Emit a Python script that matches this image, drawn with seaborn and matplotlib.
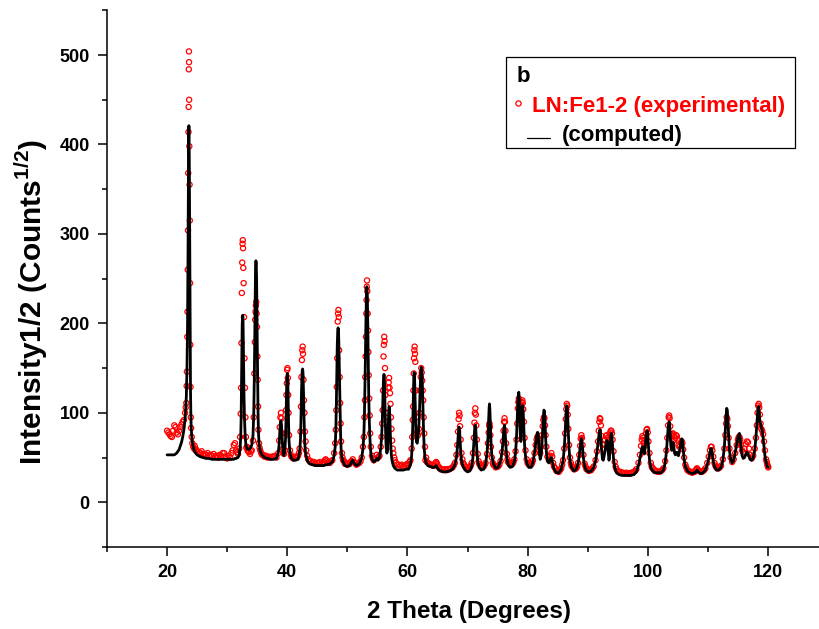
import matplotlib
matplotlib.use("Agg")
import numpy as np
import pandas as pd
import matplotlib.pyplot as plt
import seaborn as sns
from matplotlib.patches import Rectangle
from matplotlib.lines import Line2D

# ---------------- data (2theta, observed, computed) ----------------
seg1_2theta = [20.0, 20.2, 20.4, 20.6, 20.8, 21.0, 21.2, 21.4, 21.6, 21.8, 22.0, 22.2, 22.4, 22.6, 22.8,
               23.0, 23.1, 23.2, 23.26, 23.3, 23.36, 23.4, 23.44, 23.48, 23.52, 23.56, 23.59, 23.61, 23.63,
               23.65, 23.67, 23.70, 23.74, 23.78, 23.82, 23.86, 23.90, 23.95, 24.0, 24.1, 24.2, 24.35, 24.5,
               24.75, 25.0, 25.5, 26.0, 26.5, 27.0, 27.5]
seg1_obs = [80, 78, 76, 74, 73, 80, 86, 84, 78, 76, 80, 84, 87, 90, 92,
            100, 106, 111, 130, 146, 185, 213, 260, 304, 368, 414, 442, 484, 504,
            492, 450, 398, 355, 315, 245, 176, 129, 95, 83, 73, 66, 62, 60,
            58, 57, 55, 54, 53, 52, 52]
seg1_calc = [53, 53, 53, 53, 53, 53, 53, 54, 55, 57, 59, 63, 67, 73, 81,
             94, 104, 118, 132, 145, 172, 195, 230, 275, 330, 385, 410, 419, 421,
             418, 405, 380, 330, 270, 210, 160, 125, 100, 86, 74, 67, 62, 58,
             55, 53, 51, 50, 49, 49, 48]

seg2_2theta = [28.0, 28.5, 29.0, 29.5, 30.0, 30.5, 30.9, 31.1, 31.3, 31.5, 31.8, 32.0, 32.15, 32.25, 32.32,
               32.38, 32.44, 32.5, 32.56, 32.6, 32.64, 32.68, 32.74, 32.8, 32.88, 32.96, 33.04, 33.12, 33.3,
               33.5, 33.8, 34.1, 34.3, 34.42, 34.52, 34.6, 34.66, 34.72, 34.78, 34.84, 34.9, 34.96, 35.02,
               35.08, 35.14, 35.2, 35.3, 35.5, 35.8, 36.2, 36.7, 37.2, 37.7]
seg2_obs = [51, 50, 52, 55, 49, 50, 58, 64, 66, 58, 54, 60, 73, 99, 128,
            178, 234, 268, 289, 293, 284, 262, 245, 207, 161, 128, 95, 73, 62,
            57, 54, 58, 69, 95, 144, 179, 204, 213, 220, 224, 211, 196, 163,
            137, 107, 81, 66, 58, 53, 51, 50, 50, 51]
seg2_calc = [48, 48, 48, 48, 48, 48, 48, 48, 49, 49, 50, 53, 60, 72, 92,
             130, 170, 198, 208, 209, 205, 185, 150, 120, 95, 80, 70, 64, 60,
             59, 60, 64, 75, 98, 140, 190, 235, 262, 270, 268, 250, 215, 170,
             130, 100, 80, 66, 57, 53, 50, 49, 48, 48]

seg3_2theta = [38.2, 38.5, 38.65, 38.75, 38.85, 38.95, 39.05, 39.15, 39.3, 39.45, 39.6, 39.72, 39.8, 39.86,
               39.92, 39.98, 40.04, 40.1, 40.16, 40.22, 40.3, 40.45, 40.7, 41.0, 41.4, 41.8, 42.05, 42.2,
               42.28, 42.36, 42.44, 42.5, 42.56, 42.62, 42.7, 42.78, 42.86, 42.94, 43.05, 43.3, 43.7, 44.2,
               44.7, 45.2, 45.7, 46.1, 46.4, 46.7, 47.1, 47.5, 47.8, 47.98, 48.08, 48.16, 48.24, 48.32,
               48.4, 48.46, 48.52, 48.58, 48.64, 48.72, 48.8, 48.88, 48.96, 49.1, 49.3, 49.6, 50.0]
seg3_obs = [50, 55, 69, 84, 95, 100, 94, 77, 60, 54, 58, 77, 103, 120,
            133, 148, 150, 139, 120, 100, 75, 58, 51, 49, 50, 52, 60, 79,
            107, 140, 159, 170, 174, 166, 137, 114, 100, 79, 68, 52, 46, 44,
            43, 44, 43, 45, 48, 44, 44, 47, 55, 66, 81, 103, 129, 161,
            202, 211, 215, 207, 170, 140, 111, 88, 68, 55, 47, 43, 42]
seg3_calc = [49, 55, 65, 78, 88, 91, 86, 72, 56, 52, 58, 72, 95, 118,
             135, 143, 144, 135, 112, 88, 68, 55, 49, 47, 47, 48, 56, 70,
             92, 120, 140, 148, 149, 145, 125, 98, 78, 64, 55, 47, 43, 42,
             41, 41, 41, 41, 42, 42, 43, 45, 52, 62, 80, 105, 140, 175,
             192, 195, 193, 180, 158, 125, 95, 75, 60, 50, 45, 41, 40]

seg4_2theta = [50.4, 50.7, 50.9, 51.1, 51.5, 52.0, 52.4, 52.6, 52.75, 52.85, 52.92, 52.98, 53.04, 53.1,
               53.16, 53.2, 53.24, 53.28, 53.32, 53.38, 53.44, 53.5, 53.56, 53.64, 53.72, 53.8, 53.9, 54.1,
               54.4, 54.7, 54.9, 55.1, 55.35, 55.55, 55.7, 55.8, 55.88, 55.95, 56.02, 56.08, 56.14, 56.2,
               56.27, 56.34, 56.45, 56.58, 56.7, 56.8, 56.88, 56.95, 57.02, 57.1, 57.18, 57.26, 57.34,
               57.45, 57.65, 57.9, 58.3, 58.8, 59.3, 59.8]
seg4_obs = [43, 46, 48, 45, 42, 44, 50, 62, 73, 95, 114, 140, 163, 185,
            211, 226, 241, 248, 236, 211, 192, 168, 142, 116, 97, 77, 62, 52,
            47, 49, 53, 50, 52, 62, 73, 88, 103, 125, 163, 176, 185, 180,
            150, 120, 100, 90, 100, 128, 134, 139, 128, 122, 110, 95, 82,
            69, 55, 47, 42, 41, 40, 42]
seg4_calc = [41, 45, 47, 44, 41, 43, 50, 60, 75, 100, 125, 150, 180, 205,
             228, 238, 241, 240, 232, 210, 180, 150, 120, 95, 78, 66, 56, 48,
             45, 47, 49, 47, 50, 60, 72, 88, 105, 125, 138, 143, 142, 132,
             110, 85, 62, 55, 58, 80, 100, 107, 104, 90, 72, 60, 52,
             46, 41, 38, 36, 36, 36, 37]

seg5_2theta = [60.2, 60.5, 60.7, 60.8, 60.88, 60.94, 61.0, 61.06, 61.1, 61.15, 61.2, 61.26, 61.32, 61.4,
               61.5, 61.62, 61.75, 61.9, 62.02, 62.12, 62.22, 62.3, 62.38, 62.46, 62.54, 62.62, 62.7, 62.8,
               62.92, 63.1, 63.4, 63.8, 64.2, 64.5, 64.8, 65.1, 65.5, 66.0, 66.5, 67.0, 67.5, 67.9, 68.15,
               68.3, 68.42, 68.52, 68.6, 68.68, 68.76, 68.86, 69.0, 69.25, 69.6, 70.0, 70.4, 70.7, 70.9,
               71.05, 71.15, 71.22, 71.3, 71.38, 71.46, 71.56, 71.7, 71.95, 72.3, 72.7, 73.0, 73.25, 73.4,
               73.52, 73.6, 73.66, 73.72, 73.8, 73.9, 74.05, 74.3, 74.7]
seg5_obs = [42, 47, 60, 73, 92, 107, 125, 144, 161, 170, 174, 166, 157, 125,
            95, 78, 75, 82, 100, 125, 140, 150, 145, 136, 125, 114, 95, 77,
            62, 50, 44, 42, 41, 42, 45, 40, 37, 36, 36, 37, 39, 44, 53,
            64, 79, 93, 100, 97, 85, 70, 55, 44, 40, 38, 39, 44, 55,
            72, 89, 100, 105, 98, 86, 70, 54, 43, 39, 40, 44, 54, 66,
            78, 86, 88, 84, 75, 62, 50, 42, 39]
seg5_calc = [37, 42, 52, 65, 85, 105, 125, 140, 145, 144, 138, 120, 100, 80,
             68, 66, 72, 85, 105, 128, 145, 151, 149, 140, 118, 95, 76, 60,
             50, 44, 41, 40, 39, 39, 41, 37, 35, 34, 34, 35, 37, 42, 50,
             60, 72, 81, 84, 80, 70, 58, 47, 40, 36, 34, 35, 40, 50,
             66, 78, 85, 86, 82, 70, 58, 46, 39, 36, 37, 42, 55, 72,
             92, 106, 110, 104, 88, 68, 52, 43, 38]

seg6_2theta = [75.1, 75.5, 75.75, 75.9, 76.0, 76.08, 76.16, 76.24, 76.32, 76.42, 76.55, 76.75, 77.1, 77.5,
               77.8, 78.0, 78.15, 78.28, 78.38, 78.46, 78.54, 78.62, 78.7, 78.8, 78.88, 78.96, 79.04, 79.12,
               79.2, 79.28, 79.38, 79.5, 79.65, 79.85, 80.2, 80.6, 80.9, 81.15, 81.35, 81.5, 81.62, 81.72,
               81.82, 81.95, 82.1, 82.25, 82.4, 82.52, 82.62, 82.72, 82.8, 82.9, 83.0, 83.12, 83.3, 83.55,
               83.8, 83.95, 84.1, 84.4, 84.8, 85.2, 85.6, 85.9, 86.1, 86.25, 86.36, 86.44, 86.52, 86.6,
               86.68, 86.78, 86.9, 87.05, 87.3, 87.7, 88.1, 88.4, 88.6, 88.75, 88.85, 88.95, 89.05, 89.15,
               89.3, 89.5, 89.8]
seg6_obs = [40, 46, 56, 68, 80, 90, 94, 90, 80, 66, 54, 45, 42, 43,
            48, 57, 70, 88, 105, 112, 116, 112, 105, 98, 100, 108, 112, 114,
            111, 104, 90, 72, 58, 48, 42, 42, 47, 55, 64, 70, 73, 72,
            67, 58, 55, 62, 75, 85, 92, 95, 94, 86, 75, 62, 51, 47,
            52, 55, 51, 40, 35, 34, 38, 47, 60, 77, 93, 104, 110, 108,
            98, 82, 64, 50, 41, 37, 38, 44, 53, 63, 71, 75, 72, 64,
            53, 43, 37]
seg6_calc = [39, 46, 56, 68, 78, 84, 86, 82, 72, 60, 50, 42, 39, 40,
             46, 56, 72, 95, 112, 120, 123, 115, 95, 72, 68, 80, 98, 107,
             108, 100, 82, 64, 52, 44, 39, 39, 45, 55, 66, 74, 78, 78,
             70, 56, 48, 52, 66, 82, 96, 103, 102, 90, 72, 57, 46, 44,
             48, 50, 46, 37, 33, 33, 37, 46, 60, 78, 95, 105, 108, 106,
             96, 78, 60, 47, 39, 35, 37, 43, 52, 62, 68, 71, 68, 60,
             49, 40, 35]

seg7_2theta = [90.2, 90.6, 91.0, 91.3, 91.55, 91.72, 91.84, 91.94, 92.02, 92.1, 92.2, 92.32, 92.46, 92.6,
               92.75, 92.9, 93.05, 93.18, 93.3, 93.42, 93.55, 93.65, 93.75, 93.85, 93.94, 94.04, 94.15, 94.3,
               94.5, 94.8, 95.2, 95.7, 96.2, 96.7, 97.2, 97.7, 98.1, 98.45, 98.7, 98.88, 99.0, 99.1, 99.2,
               99.32, 99.45, 99.58, 99.7, 99.8, 99.9, 100.0, 100.12, 100.28, 100.5, 100.8, 101.2, 101.7,
               102.2, 102.6, 102.9, 103.1, 103.25, 103.38, 103.48, 103.56, 103.64, 103.74, 103.86, 104.0,
               104.12, 104.22, 104.34, 104.46, 104.6, 104.72, 104.84, 104.96, 105.1, 105.25, 105.4, 105.55,
               105.66, 105.76, 105.9, 106.05, 106.25, 106.6, 107.0]
seg7_obs = [35, 36, 40, 47, 57, 68, 80, 90, 94, 93, 86, 74, 64, 60,
            65, 70, 74, 75, 72, 68, 70, 74, 78, 80, 80, 77, 70, 57,
            45, 37, 34, 33, 32, 32, 33, 34, 37, 44, 53, 63, 70, 74, 72,
            66, 63, 70, 77, 81, 82, 78, 68, 55, 44, 38, 35, 34,
            35, 38, 46, 58, 72, 86, 95, 97, 94, 85, 76, 74,
            76, 77, 74, 70, 72, 75, 74, 70, 64, 62, 64, 67,
            68, 66, 59, 50, 42, 36, 34]
seg7_calc = [34, 35, 39, 46, 56, 66, 74, 79, 81, 80, 72, 58, 48, 47,
             52, 58, 64, 69, 68, 56, 47, 52, 64, 74, 77, 73, 62, 49,
             39, 33, 31, 30, 30, 30, 30, 31, 34, 41, 49, 56, 60, 62, 61,
             56, 54, 62, 72, 78, 80, 76, 62, 48, 39, 35, 33, 33,
             33, 36, 44, 56, 70, 82, 88, 90, 86, 74, 62, 58,
             64, 67, 62, 55, 53, 55, 56, 54, 52, 56, 62, 69,
             71, 70, 60, 48, 40, 35, 33]

seg8_2theta = [107.4, 107.8, 108.0, 108.2, 108.4, 108.8, 109.2, 109.6, 109.9, 110.15, 110.35, 110.5, 110.62,
               110.75, 110.9, 111.1, 111.4, 111.8, 112.2, 112.5, 112.75, 112.92, 113.04, 113.14, 113.24,
               113.34, 113.46, 113.6, 113.8, 114.05, 114.3, 114.55, 114.8, 115.0, 115.14, 115.26, 115.38,
               115.52, 115.7, 115.9, 116.1, 116.3, 116.5, 116.68, 116.86, 117.05, 117.3, 117.55, 117.8,
               118.0, 118.15, 118.28, 118.38, 118.46, 118.56, 118.66, 118.78, 118.9, 119.05, 119.2, 119.35,
               119.5, 119.7, 119.9, 120.05]
seg8_obs = [33, 34, 36, 38, 36, 34, 35, 38, 44, 51, 58, 62, 62,
            58, 51, 44, 39, 38, 41, 48, 60, 75, 88, 95, 93,
            85, 72, 60, 50, 45, 48, 55, 64, 70, 73, 73, 70,
            64, 58, 56, 60, 65, 68, 67, 60, 53, 49, 52, 60,
            72, 86, 100, 108, 110, 106, 98, 88, 82, 80, 76, 68,
            58, 48, 42, 39]
seg8_calc = [32, 33, 34, 36, 34, 32, 33, 36, 42, 49, 56, 60, 60,
             54, 46, 40, 36, 36, 39, 47, 62, 82, 97, 105, 103,
             90, 72, 58, 48, 44, 47, 55, 65, 72, 76, 77, 72,
             62, 52, 49, 50, 53, 56, 55, 51, 48, 47, 49, 58,
             72, 88, 100, 106, 107, 100, 90, 88, 84, 80, 72, 62,
             52, 45, 40, 39]

# additional experimental points read along the noisy background band
bg_obs_2theta = [24.6, 24.85, 25.25, 25.75, 26.25, 26.75, 27.25, 27.75, 28.25, 28.75, 29.25, 29.75, 30.25, 30.7, 31.65,
                 33.2, 33.4, 33.65, 33.95, 35.4, 35.65, 36.0, 36.45, 36.95, 37.45, 37.95,
                 40.6, 40.85, 41.2, 41.6, 41.95, 43.15, 43.5, 43.95, 44.45, 44.95, 45.45, 45.9, 46.25, 46.55, 46.9, 47.3,
                 49.2, 49.45, 49.8, 50.2, 50.55, 51.3, 51.75, 52.2, 54.25, 54.55, 55.25,
                 57.55, 57.8, 58.1, 58.55, 59.05, 59.55, 60.0, 60.35,
                 63.0, 63.25, 63.6, 64.0, 64.35, 64.65, 64.95, 65.3, 65.75, 66.25, 66.75, 67.25, 67.7,
                 69.15, 69.45, 69.8, 70.2, 70.55, 71.85, 72.15, 72.5, 72.85, 74.2, 74.5, 74.9, 75.3,
                 76.65, 76.9, 77.3, 77.65, 80.0, 80.4, 80.75, 84.25, 84.6, 85.0, 85.4, 85.75,
                 87.2, 87.5, 87.9, 88.25, 89.65, 90.0, 90.4, 90.8,
                 94.65, 95.0, 95.45, 95.95, 96.45, 96.95, 97.45, 97.9, 100.65, 101.0, 101.45, 101.95, 102.4,
                 106.4, 106.8, 107.2, 107.6, 108.1, 108.6, 109.0, 109.4, 111.25, 111.6, 112.0, 119.8, 120.0]
bg_obs = [63, 59, 56, 57, 54, 55, 53, 54, 52, 53, 55, 51, 52, 55, 56,
          61, 58, 56, 57, 61, 55, 53, 52, 51, 51, 52,
          53, 50, 51, 50, 55, 58, 48, 46, 45, 44, 45, 44, 47, 46, 45, 46,
          50, 46, 44, 43, 45, 44, 43, 46, 49, 48, 51,
          60, 50, 44, 42, 42, 41, 43, 45,
          47, 45, 43, 42, 41, 44, 43, 39, 37, 37, 37, 38, 41,
          48, 42, 39, 38, 41, 46, 41, 40, 42, 44, 41, 40, 42,
          48, 44, 43, 45, 44, 43, 44, 44, 38, 35, 36, 42,
          44, 39, 37, 40, 40, 37, 36, 38,
          40, 35, 34, 33, 33, 32, 33, 35, 40, 37, 35, 34, 36,
          39, 35, 34, 34, 37, 35, 34, 36, 41, 38, 39, 45, 40]

x_major_ticks = [20, 40, 60, 80, 100, 120]
y_major_ticks = [0, 100, 200, 300, 400, 500]
legend_title = "b"
label_obs = "LN:Fe1-2 (experimental)"
label_calc = "(computed)"

# ---------------- assemble ----------------
two_theta = seg1_2theta + seg2_2theta + seg3_2theta + seg4_2theta + seg5_2theta + seg6_2theta + seg7_2theta + seg8_2theta
observed = seg1_obs + seg2_obs + seg3_obs + seg4_obs + seg5_obs + seg6_obs + seg7_obs + seg8_obs
computed = seg1_calc + seg2_calc + seg3_calc + seg4_calc + seg5_calc + seg6_calc + seg7_calc + seg8_calc
df_calc = pd.DataFrame({"two_theta": two_theta, "computed": computed})
df_obs = pd.DataFrame({"two_theta": two_theta + bg_obs_2theta, "observed": observed + bg_obs})

# ---------------- style ----------------
sns.set_style("ticks")
plt.rcParams["font.family"] = ["Liberation Sans", "DejaVu Sans"]
plt.rcParams["font.weight"] = "bold"
plt.rcParams["mathtext.fontset"] = "custom"
plt.rcParams["mathtext.rm"] = "Liberation Sans"
plt.rcParams["mathtext.bf"] = "Liberation Sans:bold"
for key in ["text.color", "axes.labelcolor", "xtick.color", "ytick.color", "axes.edgecolor"]:
    plt.rcParams[key] = "black"

W, H = 819, 629
fig = plt.figure(figsize=(W / 100, H / 100), dpi=100)
ax = fig.add_axes([107 / W, 1 - 547 / H, 712 / W, 536.7 / H])

sns.scatterplot(data=df_obs, x="two_theta", y="observed", ax=ax, marker="o", s=14,
                facecolors="none", edgecolor="#ff0000", linewidth=0.9, zorder=2, legend=False)
sns.lineplot(data=df_calc, x="two_theta", y="computed", ax=ax, color="black", linewidth=2.0,
             estimator=None, sort=False, zorder=3, legend=False)

ax.set_xlim(10, 128.5)
ax.set_ylim(-50, 550)
ax.set_xticks(x_major_ticks)
ax.set_xticks(np.arange(10, 130, 10), minor=True)
ax.set_yticks(y_major_ticks)
ax.set_yticks(np.arange(-50, 551, 50), minor=True)
for sp in ["top", "right"]:
    ax.spines[sp].set_visible(False)
for sp in ["left", "bottom"]:
    ax.spines[sp].set_linewidth(1.1)
    ax.spines[sp].set_color("black")
ax.tick_params(axis="both", which="major", length=6.5, width=1.1, direction="out", pad=6, colors="black")
ax.tick_params(axis="both", which="minor", length=3.5, width=1.1, direction="out", colors="black")
for lab in ax.get_xticklabels() + ax.get_yticklabels():
    lab.set_fontsize(13)
    lab.set_fontweight("bold")
    lab.set_color("black")

ax.set_xlabel("2 Theta (Degrees)", fontsize=17.5, fontweight="bold", color="black")
ax.xaxis.set_label_coords((469 - 107) / 712, (547 - 600) / 536.7)
ax.set_ylabel(r"Intensity1/2 (Counts$^{1/2}$)", fontsize=21.5, fontweight="bold", color="black")
ax.yaxis.set_label_coords((50 - 107) / 712, (547 - 302) / 536.7)

# ---------------- legend box ----------------
def fx(x):
    return x / W

def fy(y):
    return 1 - y / H

fig.patches.append(Rectangle((fx(506), fy(148)), (795 - 506) / W, (148 - 57) / H,
                             transform=fig.transFigure, facecolor="white", edgecolor="black",
                             linewidth=0.9, zorder=5))
fig.text(fx(517), fy(82), legend_title, fontsize=16, fontweight="bold", color="black",
         ha="left", va="baseline", zorder=6)
fig.lines.append(Line2D([fx(518)], [fy(103)], transform=fig.transFigure, marker="o", markersize=3.8,
                        markerfacecolor="none", markeredgecolor="#ff0000", markeredgewidth=0.9,
                        linestyle="none", zorder=6))
fig.text(fx(532), fy(112), label_obs, fontsize=16, fontweight="bold", color="#ff0000",
         ha="left", va="baseline", zorder=6)
fig.lines.append(Line2D([fx(527), fx(550)], [fy(138), fy(138)], transform=fig.transFigure,
                        color="black", linewidth=0.9, zorder=6))
fig.text(fx(562), fy(141), label_calc, fontsize=16, fontweight="bold", color="black",
         ha="left", va="baseline", zorder=6)

fig.savefig("out.png", dpi=100)
